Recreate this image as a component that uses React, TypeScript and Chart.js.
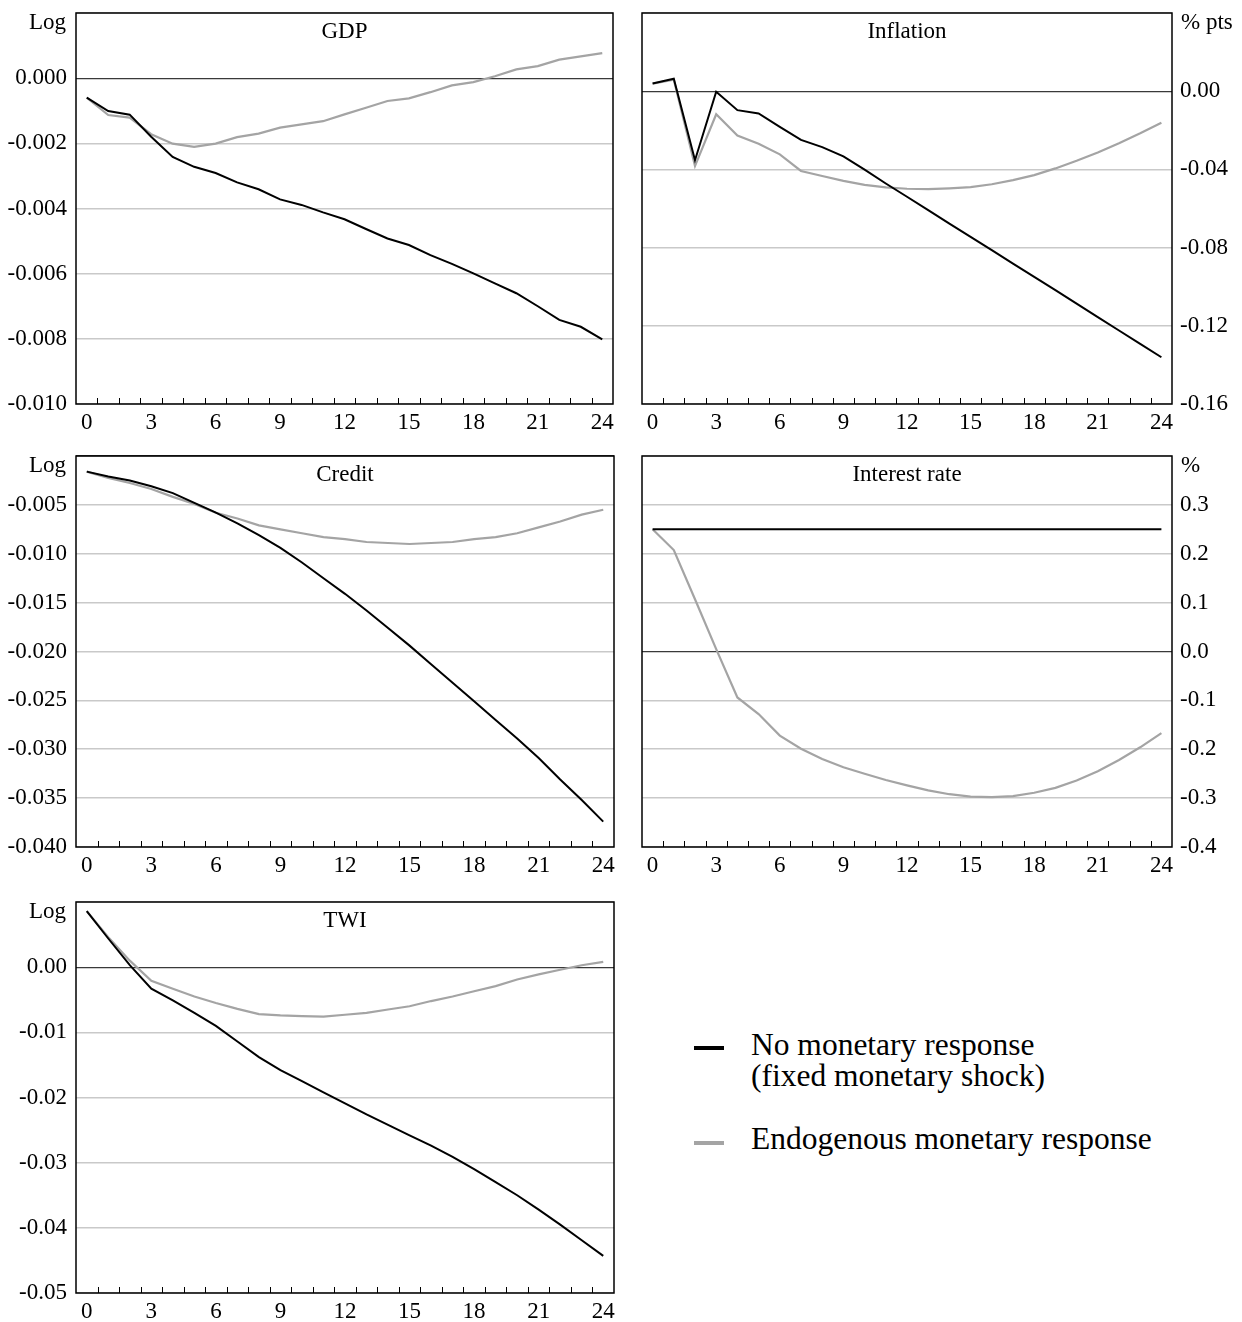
import React, { useEffect, useRef } from "react";
import { Chart, registerables } from "chart.js";

Chart.register(...registerables);

// ---------------- data ----------------
const horizons = [0, 1, 2, 3, 4, 5, 6, 7, 8, 9, 10, 11, 12, 13, 14, 15, 16, 17, 18, 19, 20, 21, 22, 23, 24];
const xTickLabels = ["0", "3", "6", "9", "12", "15", "18", "21", "24"];

const noResponseLabel = ["No monetary response", "(fixed monetary shock)"];
const endogenousLabel = ["Endogenous monetary response"];

const gdpNoResponse = [-0.0006, -0.00101, -0.00112, -0.0018, -0.00242, -0.00272, -0.00291, -0.0032, -0.00341, -0.00372, -0.00389, -0.00412, -0.00433, -0.00463, -0.00492, -0.00512, -0.00543, -0.0057, -0.00599, -0.0063, -0.0066, -0.007, -0.00742, -0.00763, -0.00802];
const gdpEndogenous = [-0.0006, -0.00113, -0.00121, -0.00172, -0.00201, -0.00211, -0.00201, -0.00181, -0.0017, -0.00152, -0.00142, -0.00132, -0.00111, -0.00091, -0.0007, -0.00062, -0.00043, -0.00022, -0.00012, 0.00006, 0.00027, 0.00037, 0.00057, 0.00067, 0.00077];
const gdpYTicks = [-0.01, -0.008, -0.006, -0.004, -0.002, 0.0, 0.002];

const inflationNoResponse = [0.0039, 0.0064, -0.0353, -0.0003, -0.0097, -0.0114, -0.0182, -0.0249, -0.0286, -0.0333, -0.0401, -0.0472, -0.054, -0.0608, -0.0677, -0.0745, -0.0813, -0.0882, -0.095, -0.1018, -0.1087, -0.1156, -0.1224, -0.1292, -0.1361];
const inflationEndogenous = [0.0039, 0.0059, -0.0383, -0.0118, -0.0227, -0.0269, -0.0323, -0.0408, -0.0434, -0.0459, -0.0479, -0.0492, -0.0499, -0.0501, -0.0497, -0.0491, -0.0476, -0.0455, -0.0429, -0.0395, -0.0356, -0.0314, -0.0266, -0.0215, -0.0161];
const inflationYTicks = [-0.16, -0.12, -0.08, -0.04, 0.0, 0.04];

const creditNoResponse = [-0.0016, -0.0021, -0.0025, -0.0031, -0.0038, -0.0048, -0.0058, -0.0069, -0.0081, -0.0094, -0.0109, -0.0125, -0.0141, -0.0158, -0.0176, -0.0194, -0.0213, -0.0232, -0.0251, -0.027, -0.0289, -0.0309, -0.0331, -0.0352, -0.0374];
const creditEndogenous = [-0.0016, -0.00224, -0.00276, -0.00337, -0.00418, -0.0049, -0.0058, -0.0064, -0.0071, -0.0075, -0.0079, -0.0083, -0.0085, -0.0088, -0.0089, -0.009, -0.0089, -0.0088, -0.0085, -0.0083, -0.0079, -0.0073, -0.0067, -0.006, -0.0055];
const creditYTicks = [-0.04, -0.035, -0.03, -0.025, -0.02, -0.015, -0.01, -0.005, 0.0];

const rateNoResponse = [0.25, 0.25, 0.25, 0.25, 0.25, 0.25, 0.25, 0.25, 0.25, 0.25, 0.25, 0.25, 0.25, 0.25, 0.25, 0.25, 0.25, 0.25, 0.25, 0.25, 0.25, 0.25, 0.25, 0.25, 0.25];
const rateEndogenous = [0.25, 0.2075, 0.107, 0.005, -0.094, -0.128, -0.172, -0.199, -0.22, -0.237, -0.25, -0.263, -0.274, -0.284, -0.292, -0.297, -0.298, -0.296, -0.289, -0.279, -0.264, -0.245, -0.222, -0.196, -0.167];
const rateYTicks = [-0.4, -0.3, -0.2, -0.1, 0.0, 0.1, 0.2, 0.3, 0.4];

const twiNoResponse = [0.0086, 0.0044, 0.0003, -0.0033, -0.0051, -0.007, -0.009, -0.0114, -0.0138, -0.0158, -0.0175, -0.0192, -0.0209, -0.0226, -0.0242, -0.0258, -0.0274, -0.0291, -0.031, -0.033, -0.035, -0.0372, -0.0395, -0.0419, -0.0443];
const twiEndogenous = [0.0086, 0.0046, 0.001, -0.0021, -0.0033, -0.0045, -0.0055, -0.0064, -0.0072, -0.0074, -0.0075, -0.0076, -0.0073, -0.007, -0.0065, -0.006, -0.0052, -0.0045, -0.0037, -0.0029, -0.0019, -0.0011, -0.0004, 0.0003, 0.0008];
const twiYTicks = [-0.05, -0.04, -0.03, -0.02, -0.01, 0.0, 0.01];

// ---------------- styles / layout ----------------
const FONT_FAMILY = "'Liberation Serif', 'Times New Roman', Times, serif";
const BLACK = "#000000";
const GREY = "#a4a4a4";

type Box = { l: number; t: number; r: number; b: number };
type Panel = {
  key: string;
  title: string;
  unit: string;
  black: number[];
  grey: number[];
  yTicks: number[];
  decimals: number;
  yPos: "left" | "right";
  box: Box;
  canvas: { l: number; t: number; w: number; h: number };
};

const panels: Panel[] = [
  {
    key: "gdp", title: "GDP", unit: "Log", black: gdpNoResponse, grey: gdpEndogenous,
    yTicks: gdpYTicks, decimals: 3, yPos: "left",
    box: { l: 76, t: 13, r: 613, b: 404 }, canvas: { l: 0, t: 0, w: 620, h: 440 },
  },
  {
    key: "inflation", title: "Inflation", unit: "% pts", black: inflationNoResponse, grey: inflationEndogenous,
    yTicks: inflationYTicks, decimals: 2, yPos: "right",
    box: { l: 642, t: 13, r: 1172, b: 404 }, canvas: { l: 620, t: 0, w: 622, h: 440 },
  },
  {
    key: "credit", title: "Credit", unit: "Log", black: creditNoResponse, grey: creditEndogenous,
    yTicks: creditYTicks, decimals: 3, yPos: "left",
    box: { l: 76, t: 456, r: 614, b: 847 }, canvas: { l: 0, t: 440, w: 620, h: 444 },
  },
  {
    key: "rate", title: "Interest rate", unit: "%", black: rateNoResponse, grey: rateEndogenous,
    yTicks: rateYTicks, decimals: 1, yPos: "right",
    box: { l: 642, t: 456, r: 1172, b: 847 }, canvas: { l: 620, t: 440, w: 622, h: 444 },
  },
  {
    key: "twi", title: "TWI", unit: "Log", black: twiNoResponse, grey: twiEndogenous,
    yTicks: twiYTicks, decimals: 2, yPos: "left",
    box: { l: 76, t: 902, r: 614, b: 1293 }, canvas: { l: 0, t: 884, w: 620, h: 438 },
  },
];

const framePlugin = {
  id: "frameAndTicks",
  afterDraw(chart: any) {
    const { ctx, chartArea: a, scales } = chart;
    const x = scales.x;
    ctx.save();
    ctx.strokeStyle = BLACK;
    ctx.lineWidth = 1;
    ctx.beginPath();
    for (let i = 1; i < horizons.length; i++) {
      const px = Math.round((x.getPixelForValue(i - 1) + x.getPixelForValue(i)) / 2) + 0.5;
      ctx.moveTo(px, a.bottom);
      ctx.lineTo(px, a.bottom - 6);
    }
    ctx.stroke();
    ctx.lineWidth = 1.5;
    ctx.strokeRect(a.left, a.top, a.right - a.left, a.bottom - a.top);
    ctx.restore();
  },
};

function ChartPanel({ p }: { p: Panel }) {
  const ref = useRef<HTMLCanvasElement | null>(null);
  useEffect(() => {
    const c = ref.current;
    if (!c) return;
    const { box, canvas } = p;
    const yWidth = p.yPos === "left" ? box.l - canvas.l : canvas.l + canvas.w - box.r;
    const padLeft = p.yPos === "left" ? 0 : box.l - canvas.l;
    const padRight = p.yPos === "left" ? canvas.l + canvas.w - box.r : 0;
    const padTop = box.t - canvas.t;
    const xHeight = canvas.t + canvas.h - box.b;
    const yMin = p.yTicks[0];
    const yMax = p.yTicks[p.yTicks.length - 1];
    const font = { family: FONT_FAMILY, size: 23 };
    const chart = new Chart(c, {
      type: "line",
      data: {
        labels: horizons,
        datasets: [
          { label: noResponseLabel.join(" "), data: p.black, borderColor: BLACK, borderWidth: 2, pointRadius: 0, tension: 0, fill: false },
          { label: endogenousLabel[0], data: p.grey, borderColor: GREY, borderWidth: 2.2, pointRadius: 0, tension: 0, fill: false },
        ],
      },
      options: {
        responsive: false,
        animation: false,
        devicePixelRatio: 1,
        events: [],
        layout: { padding: { left: padLeft, right: padRight, top: padTop, bottom: 0 } },
        plugins: { legend: { display: false }, tooltip: { enabled: false }, title: { display: false } },
        scales: {
          x: {
            type: "category",
            offset: true,
            grid: { display: false, drawTicks: false },
            border: { display: false },
            ticks: {
              autoSkip: false,
              maxRotation: 0,
              minRotation: 0,
              padding: 5,
              color: BLACK,
              font,
              callback: (_v: any, i: number) => {
                const s = String(horizons[i]);
                return xTickLabels.includes(s) ? s : "";
              },
            },
            afterFit: (s: any) => {
              s.height = xHeight;
              s.paddingLeft = 0;
              s.paddingRight = 0;
            },
          },
          y: {
            type: "linear",
            position: p.yPos,
            min: yMin,
            max: yMax,
            afterBuildTicks: (s: any) => {
              s.ticks = p.yTicks.map((v) => ({ value: v }));
            },
            grid: {
              drawTicks: false,
              color: (ctx: any) => (ctx.tick && Math.abs(ctx.tick.value) < 1e-12 ? "#3a3a3a" : "#c9c9c9"),
              lineWidth: (ctx: any) => (ctx.tick && Math.abs(ctx.tick.value) < 1e-12 ? 1.3 : 1.6),
            },
            border: { display: false },
            ticks: {
              padding: p.yPos === "left" ? 9 : 8,
              color: BLACK,
              font,
              callback: (v: any) => (Math.abs(v - yMax) < 1e-12 ? "" : Number(v).toFixed(p.decimals)),
            },
            afterFit: (s: any) => {
              s.width = yWidth;
              s.paddingTop = 0;
              s.paddingBottom = 0;
            },
          },
        },
      },
      plugins: [framePlugin],
    } as any);
    return () => chart.destroy();
  }, [p]);

  const { box, canvas } = p;
  return (
    <>
      <canvas
        ref={ref}
        width={canvas.w}
        height={canvas.h}
        style={{ position: "absolute", left: canvas.l, top: canvas.t, width: canvas.w, height: canvas.h }}
      />
      <div
        style={{
          position: "absolute", left: box.l, top: box.t + 6, width: box.r - box.l, textAlign: "center",
          fontFamily: FONT_FAMILY, fontSize: 23, lineHeight: "23px", color: BLACK, whiteSpace: "nowrap",
        }}
      >
        {p.title}
      </div>
      {p.yPos === "left" ? (
        <div
          style={{
            position: "absolute", left: 0, top: box.t - 3, width: 66, textAlign: "right",
            fontFamily: FONT_FAMILY, fontSize: 23, lineHeight: "23px", color: BLACK, whiteSpace: "nowrap",
          }}
        >
          {p.unit}
        </div>
      ) : (
        <div
          style={{
            position: "absolute", left: box.r + 9, top: box.t - 3,
            fontFamily: FONT_FAMILY, fontSize: 23, lineHeight: "23px", color: BLACK, whiteSpace: "nowrap",
          }}
        >
          {p.unit}
        </div>
      )}
    </>
  );
}

function Legend() {
  const text: React.CSSProperties = {
    position: "absolute", left: 751, fontFamily: FONT_FAMILY, fontSize: 31.5, lineHeight: "31px",
    color: BLACK, whiteSpace: "nowrap",
  };
  return (
    <>
      <div style={{ position: "absolute", left: 694, top: 1046, width: 30, height: 4, background: BLACK }} />
      <div style={{ ...text, top: 1029 }}>
        {noResponseLabel.map((l) => (
          <div key={l}>{l}</div>
        ))}
      </div>
      <div style={{ position: "absolute", left: 694, top: 1141, width: 30, height: 4, background: GREY }} />
      <div style={{ ...text, top: 1123 }}>
        {endogenousLabel.map((l) => (
          <div key={l}>{l}</div>
        ))}
      </div>
    </>
  );
}

export default function App() {
  return (
    <div
      style={{
        position: "absolute", left: 0, top: 0, width: 1242, height: 1322, overflow: "hidden", background: "#ffffff",
      }}
    >
      {panels.map((p) => (
        <ChartPanel key={p.key} p={p} />
      ))}
      <Legend />
    </div>
  );
}
